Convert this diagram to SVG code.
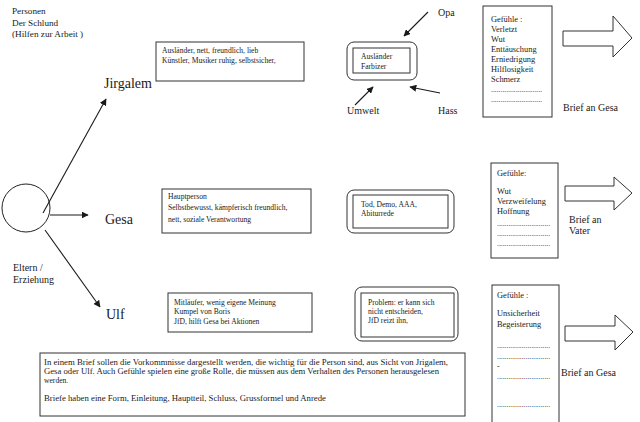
<svg xmlns="http://www.w3.org/2000/svg" width="640" height="422" viewBox="0 0 640 422" font-family="'Liberation Serif', 'Times New Roman', serif">
<style>
text{font-family:"Liberation Serif","Times New Roman",serif;fill:#1a1a1a}
.s{font-size:7.6px}
.m{font-size:8.4px}
.t{font-size:9.2px}
.l{font-size:10px}
.n{font-size:14px}
.b{fill:#fff;stroke:#333;stroke-width:1}
.c{stroke:#1a1a1a;stroke-width:1.1;fill:none}
.big{fill:#fff;stroke:#333;stroke-width:1}
</style>
<defs>
<marker id="ah" viewBox="0 0 10 10" refX="9" refY="5" markerWidth="7" markerHeight="7" orient="auto" markerUnits="userSpaceOnUse">
<path d="M0,0 L10,5 L0,10 z" fill="#1a1a1a"/>
</marker>
</defs>
<rect width="640" height="422" fill="#fff"/>

<g id="title">
<text class="t" x="12" y="14">Personen</text>
<text class="t" x="12" y="26">Der Schlund</text>
<text class="t" x="12" y="37">(Hilfen zur Arbeit )</text>
</g>

<g id="eltern">
<circle cx="26" cy="208" r="24" fill="#fff" stroke="#222" stroke-width="1"/>
<text class="l" x="13" y="271">Eltern /</text>
<text class="l" x="13" y="283">Erziehung</text>
</g>

<g id="connectors">
<line class="c" x1="43" y1="213" x2="106" y2="99" marker-end="url(#ah)"/>
<line class="c" x1="50" y1="215" x2="88" y2="215" marker-end="url(#ah)"/>
<line class="c" x1="45" y1="230" x2="100" y2="307" marker-end="url(#ah)"/>
<line class="c" x1="428" y1="12" x2="404" y2="36" marker-end="url(#ah)"/>
<line class="c" x1="355" y1="105" x2="373" y2="87" marker-end="url(#ah)"/>
<line class="c" x1="440" y1="93" x2="410" y2="87" marker-end="url(#ah)"/>
</g>

<g id="jirgalem">
<text class="n" x="104" y="88">Jirgalem</text>
</g>
<g id="gesa">
<text class="n" x="105" y="224">Gesa</text>
</g>
<g id="ulf">
<text class="n" x="106" y="319">Ulf</text>
</g>

<g id="jirgalem-traits">
<rect class="b" x="156" y="42" width="148" height="39"/>
<text class="s" x="162" y="53">Ausländer, nett, freundlich, lieb</text>
<text class="s" x="162" y="63">Künstler, Musiker ruhig, selbstsicher,</text>
</g>
<g id="gesa-traits">
<rect class="b" x="162" y="189" width="149" height="44"/>
<text class="s" x="168" y="199">Hauptperson</text>
<text class="s" x="168" y="210">Selbstbewusst, kämpferisch freundlich,</text>
<text class="s" x="168" y="222">nett, soziale Verantwortung</text>
</g>
<g id="ulf-traits">
<rect class="b" x="168" y="293" width="144" height="39"/>
<text class="s" x="174" y="305">Mitläufer, wenig eigene Meinung</text>
<text class="s" x="174" y="314">Kumpel von Boris</text>
<text class="s" x="174" y="324">JfD,  hilft Gesa  bei Aktionen</text>
</g>

<g id="jirgalem-event">
<rect class="b" x="347" y="42" width="70" height="38" rx="7"/>
<rect class="b" x="353" y="48" width="57" height="25"/>
<text class="s" x="361" y="59">Ausländer</text>
<text class="s" x="361" y="69">Farbizer</text>
</g>
<g id="opa"><text class="l" x="438" y="16">Opa</text></g>
<g id="umwelt"><text class="l" x="347" y="114">Umwelt</text></g>
<g id="hass"><text class="l" x="438" y="114">Hass</text></g>

<g id="gesa-event">
<rect class="b" x="347" y="190" width="107" height="43" rx="7"/>
<rect class="b" x="353" y="195" width="95" height="33"/>
<text class="s" x="361" y="207">Tod, Demo, AAA,</text>
<text class="s" x="361" y="216">Abiturrede</text>
</g>
<g id="ulf-event">
<rect class="b" x="355" y="287" width="103" height="54" rx="7"/>
<rect class="b" x="361" y="293" width="93" height="44"/>
<text class="s" x="368" y="305">Problem: er kann sich</text>
<text class="s" x="368" y="314">nicht entscheiden,</text>
<text class="s" x="368" y="323">JfD reizt ihn,</text>
</g>

<g id="jirgalem-feelings">
<rect class="b" x="483" y="6" width="69" height="111"/>
<text class="m" x="491" y="22">Gefühle :</text>
<text class="m" x="491" y="32">Verletzt</text>
<text class="m" x="491" y="42">Wut</text>
<text class="m" x="491" y="52">Enttäuschung</text>
<text class="m" x="491" y="62">Erniedrigung</text>
<text class="m" x="491" y="72">Hilflosigkeit</text>
<text class="m" x="491" y="82">Schmerz</text>
<text class="s" x="491" y="92">...........................</text>
<text class="s" x="491" y="102">...........................</text>
</g>
<g id="gesa-feelings">
<rect class="b" x="491" y="163" width="67" height="95"/>
<text class="m" x="497" y="176">Gefühle:</text>
<text class="m" x="497" y="194">Wut</text>
<text class="m" x="497" y="204">Verzweifelung</text>
<text class="m" x="497" y="214">Hoffnung</text>
<text class="s" x="497" y="226">............................</text>
<text class="s" x="497" y="236">............................</text>
<text class="s" x="497" y="246">............................</text>
</g>
<g id="ulf-feelings">
<rect class="b" x="492" y="285" width="67" height="145"/>
<text class="m" x="497" y="298">Gefühle :</text>
<text class="m" x="497" y="316">Unsicherheit</text>
<text class="m" x="497" y="327">Begeisterung</text>
<text class="s" x="497" y="348">............................</text>
<text class="s" x="497" y="359">............................</text>
<text class="s" x="497" y="369">-</text>
<text class="s" x="497" y="379">............................</text>
<text class="s" x="497" y="407">............................</text>
</g>

<g id="letter-1">
<path class="big" d="M563,31 H613 V16 L632,38 L613,57 V46 H563 Z"/>
<text class="l" x="563" y="111">Brief an Gesa</text>
</g>
<g id="letter-2">
<path class="big" d="M565,186 H614 V177 L632,193 L614,210 V201 H565 Z"/>
<text class="l" x="569" y="223">Brief an</text>
<text class="l" x="569" y="234">Vater</text>
</g>
<g id="letter-3">
<path class="big" d="M565,326 H615 V315 L633,332 L615,350 V341 H565 Z"/>
<text class="l" x="561" y="376">Brief an Gesa</text>
</g>

<g id="note">
<rect class="b" x="40" y="353" width="425" height="63"/>
<text class="s" x="44" y="365" textLength="404" lengthAdjust="spacingAndGlyphs">In einem Brief sollen die Vorkommnisse  dargestellt werden, die wichtig für die Person sind, aus Sicht von Jrigalem,</text>
<text class="s" x="44" y="374" textLength="395" lengthAdjust="spacingAndGlyphs">Gesa oder Ulf.  Auch Gefühle spielen eine große Rolle, die müssen aus dem Verhalten des Personen herausgelesen</text>
<text class="s" x="44" y="383">werden.</text>
<text class="s" x="44" y="401" textLength="282" lengthAdjust="spacingAndGlyphs">Briefe haben  eine Form, Einleitung, Hauptteil, Schluss, Grussformel und Anrede</text>
</g>
</svg>
